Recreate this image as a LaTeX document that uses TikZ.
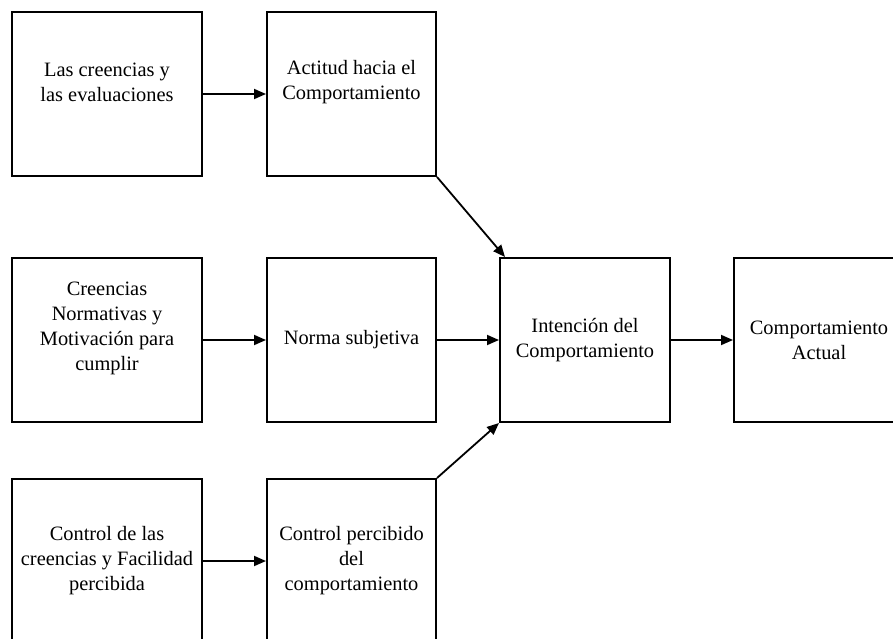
\documentclass[tikz,border=0pt]{standalone}
\usepackage{fontspec}
\setmainfont{Liberation Serif}
\usetikzlibrary{arrows.meta,positioning,calc}
\tikzset{
  box/.style={draw=black,line width=2pt,minimum width=#1,
              minimum height=164pt,inner sep=0pt},
  box/.default=190pt,
  lbl/.style={align=center,inner sep=0pt,
              font=\fontsize{20.4}{25}\selectfont},
  cause/.style={-{Triangle[length=12pt,width=10pt]},line width=1.8pt},
}
\begin{document}
\begin{tikzpicture}[x=1pt,y=-1pt]
  \useasboundingbox (0,0) rectangle (893,639);
  \clip (0,0) rectangle (893,639);
  % left column: beliefs
  \node[box] (cre) at (107,94) {};
  \node[box] (nor) at (107,340) {};
  \node[box] (con) at (107,561) {};
  % middle column
  \node[box=169pt] (act) at (351.5,94) {};
  \node[box=169pt] (sub) at (351.5,340) {};
  \node[box=169pt] (per) at (351.5,561) {};
  % intention and behaviour
  \node[box=170pt] (int) at (585,340) {};
  \node[box=170pt] (beh) at (819,340) {};
  % texts
  \node[lbl] (cre-t) at ([yshift=12pt]cre.center) {Las creencias y\\las evaluaciones};
  \node[lbl] (nor-t) at ([yshift=12pt]nor.center) {Creencias\\Normativas y\\Motivación para\\cumplir};
  \node[lbl] (con-t) at (con.center) {Control de las\\creencias y Facilidad\\percibida};
  \node[lbl] (act-t) at ([yshift=12pt]act.center) {Actitud hacia el\\Comportamiento};
  \node[lbl] (sub-t) at (sub.center) {Norma subjetiva};
  \node[lbl] (per-t) at (per.center) {Control percibido\\del\\comportamiento};
  \node[lbl] (int-t) at (int.center) {Intención del\\Comportamiento};
  \node[lbl] (beh-t) at (beh.center) {Comportamiento\\Actual};
  % arrows
  \draw[cause] (cre) -- (act);
  \draw[cause] (nor) -- (sub);
  \draw[cause] (con) -- (per);
  \draw[cause] (sub) -- (int);
  \draw[cause] (int) -- (beh);
  \draw[cause] (act.south east) -- ([xshift=6pt]int.north west);
  \draw[cause] (per.north east) -- (int.south west);
\end{tikzpicture}
\end{document}
